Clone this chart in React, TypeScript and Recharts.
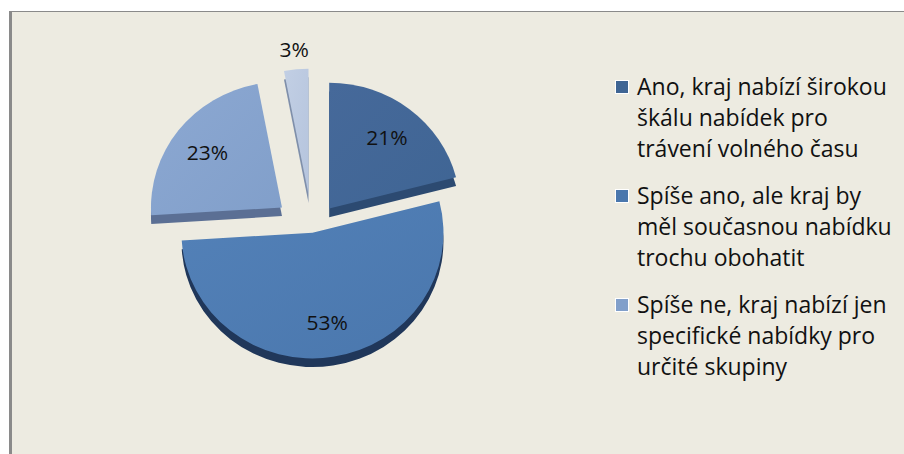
import { PieChart, Pie, Cell, Legend } from 'recharts';

// categories (legend only shows the first three, the fourth is cut off in the original)
const CATEGORIES = [
  'Ano, kraj nabízí širokou škálu nabídek pro trávení volného času',
  'Spíše ano, ale kraj by měl současnou nabídku trochu obohatit',
  'Spíše ne, kraj nabízí jen specifické nabídky pro určité skupiny',
  'Ne',
];
const VALUES = [21, 53, 23, 3];
const LEGEND_LINES = [
  ['Ano, kraj nabízí širokou', 'škálu nabídek pro', 'trávení volného času'],
  ['Spíše ano, ale kraj by', 'měl současnou nabídku', 'trochu obohatit'],
  ['Spíše ne, kraj nabízí jen', 'specifické nabídky pro', 'určité skupiny'],
];

const TOP_COLORS = ['#3F6594', '#4A77AD', '#819FCA', '#B5C4DD'];
const LIGHT_COLORS = ['#46699A', '#5381B8', '#8CA8D2', '#C2CFE4'];
const SIDE_COLORS = ['#2C4A71', '#20375A', '#5B6F94', '#7F8FAA'];
const EXPLODE = [28, 3, 38, 37];

const CX = 307;
const CY = 225;
const R = 131;
const DEPTH = 9;
const SQUASH = 0.96;
const FONT = '"Open Sans", Lato, sans-serif';

const data = CATEGORIES.map((name, i) => ({ name, value: VALUES[i] }));
const total = VALUES.reduce((a, b) => a + b, 0);

// mid angle of each slice, clockwise from 12 o'clock
const midAngles = VALUES.map((v, i) => {
  const before = VALUES.slice(0, i).reduce((a, b) => a + b, 0);
  return ((before + v / 2) / total) * 2 * Math.PI;
});
const offsets = midAngles.map((a, i) => ({
  x: EXPLODE[i] * Math.sin(a),
  y: -EXPLODE[i] * Math.cos(a),
}));

const RAD = Math.PI / 180;

const makeLabel = (slice: number) => (props: any) => {
  const { cx, cy, midAngle, outerRadius, percent, index } = props;
  if (index !== slice) return null;
  const r = percent < 0.05 ? outerRadius + 21 : outerRadius * 0.72;
  const x = cx + r * Math.cos(-midAngle * RAD);
  const y = cy + r * Math.sin(-midAngle * RAD);
  return (
    <text
      x={x}
      y={y}
      textAnchor="middle"
      dominantBaseline="central"
      fontSize={21}
      fontFamily={FONT}
      fill="#111"
    >
      {`${Math.round(percent * 100)}%`}
    </text>
  );
};

const renderLegend = () => (
  <div style={{ fontFamily: FONT, fontSize: 23, color: '#111' }}>
    {LEGEND_LINES.map((lines, i) => (
      <div key={i} style={{ display: 'flex', alignItems: 'flex-start', marginBottom: 16 }}>
        <div
          style={{
            width: 12,
            height: 12,
            marginTop: 9,
            marginRight: 8,
            background: TOP_COLORS[i],
            border: '1px solid #fff',
            flexShrink: 0,
          }}
        />
        <div style={{ lineHeight: '31px', whiteSpace: 'nowrap' }}>
          {lines.map((l, k) => (
            <div key={k}>{l}</div>
          ))}
        </div>
      </div>
    ))}
  </div>
);

export default function App() {
  return (
    <div style={{ position: 'absolute', left: 0, top: 0, width: 904, height: 454, background: '#fff', overflow: 'hidden' }}>
      <style>{`.pie3d .recharts-surface { transform: scaleY(${SQUASH}); transform-origin: ${CX}px ${CY}px; }`}</style>
      <div
        style={{
          position: 'absolute',
          left: 9,
          top: 11,
          width: 904,
          height: 454,
          background: '#EDEBE1',
          borderTop: '1px solid #8A8A8A',
          borderLeft: '3px solid #8A8A8A',
        }}
      />
      <div className="pie3d" style={{ position: 'absolute', left: 0, top: 0 }}>
        <PieChart width={904} height={454}>
          <defs>
            {TOP_COLORS.map((c, i) => (
              <linearGradient key={i} id={`grad${i}`} x1="0" y1="0" x2="1" y2="1">
                <stop offset="0%" stopColor={LIGHT_COLORS[i]} />
                <stop offset="100%" stopColor={c} />
              </linearGradient>
            ))}
          </defs>
          {/* side faces: the same slices shifted down */}
          {VALUES.map((_, i) => (
            <Pie
              key={`side${i}`}
              data={data}
              dataKey="value"
              cx={CX + offsets[i].x}
              cy={CY + offsets[i].y + DEPTH}
              outerRadius={R}
              startAngle={90}
              endAngle={-270}
              stroke="none"
              labelLine={false}
              isAnimationActive={false}
            >
              {data.map((_, j) => (
                <Cell key={j} fill={j === i ? SIDE_COLORS[i] : 'none'} stroke="none" />
              ))}
            </Pie>
          ))}
          {VALUES.map((_, i) => (
            <Pie
              key={`top${i}`}
              data={data}
              dataKey="value"
              cx={CX + offsets[i].x}
              cy={CY + offsets[i].y}
              outerRadius={R}
              startAngle={90}
              endAngle={-270}
              stroke="none"
              labelLine={false}
              label={makeLabel(i)}
              isAnimationActive={false}
            >
              {data.map((_, j) => (
                <Cell key={j} fill={j === i ? `url(#grad${i})` : 'none'} stroke="none" />
              ))}
            </Pie>
          ))}
          <Legend
            content={renderLegend}
            wrapperStyle={{ position: 'absolute', left: 615, top: 71, width: 289 }}
          />
        </PieChart>
      </div>
    </div>
  );
}
